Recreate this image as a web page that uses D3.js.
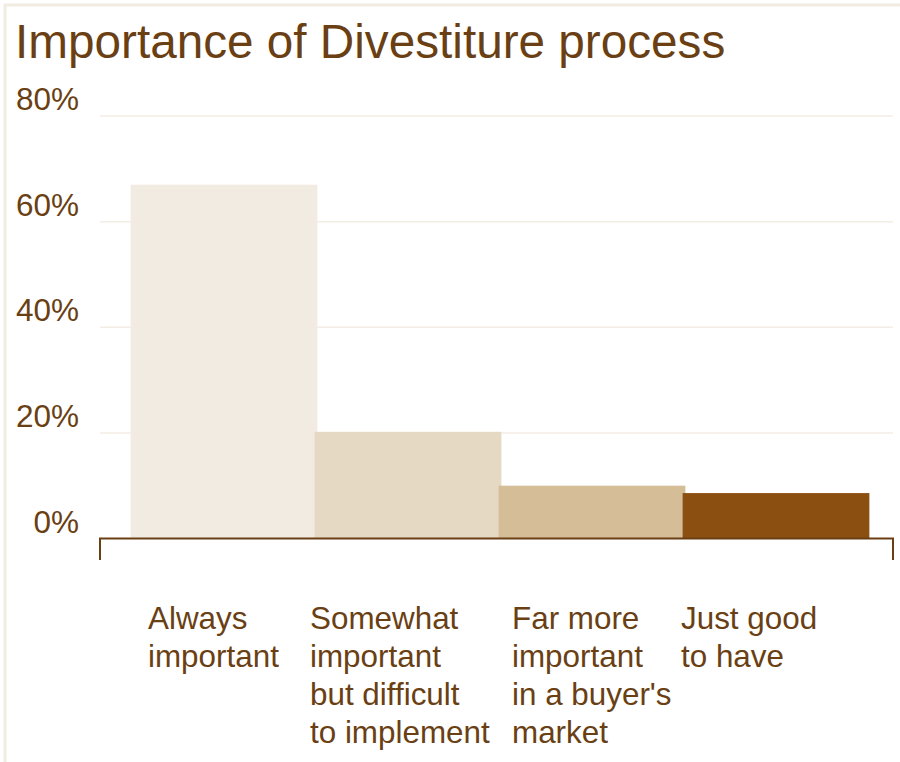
<!DOCTYPE html>
<html>
<head>
<meta charset="utf-8">
<script src="https://cdn.jsdelivr.net/npm/d3@7"></script>
<style>
  html, body { margin: 0; padding: 0; background: #ffffff; }
  svg { display: block; }
  text { font-family: "Liberation Sans", Arial, sans-serif; fill: #6a3f14; }
</style>
</head>
<body>
<svg id="chart" width="900" height="762"></svg>
<script>
// Survey answers and their shares (percent)
const categories = [
  ["Always", "important"],
  ["Somewhat", "important", "but difficult", "to implement"],
  ["Far more", "important", "in a buyer's", "market"],
  ["Just good", "to have"]
];
const values = [67, 20.2, 10, 8.6];
const barColors = ["#f2ebe1", "#e5d9c3", "#d5bd98", "#8b4f11"];
const yTicks = [0, 20, 40, 60, 80];
const titleText = "Importance of Divestiture process";

const svg = d3.select("#chart");
const textColor = "#6a3f14";

// Light frame around the panel
svg.append("path")
  .attr("d", "M5,770 L5,5 L905,5")
  .attr("fill", "none")
  .attr("stroke", "#f2ebe1")
  .attr("stroke-width", 3);

svg.append("text")
  .attr("x", 15)
  .attr("y", 58)
  .attr("font-size", 47.7)
  .text(titleText);

const plot = { left: 100, right: 893, top: 116, bottom: 538.5 };

const y = d3.scaleLinear().domain([0, 80]).range([plot.bottom, plot.top]);
const keys = d3.range(categories.length);
const x = d3.scaleBand().domain(keys).range([132, 868]).paddingInner(0).paddingOuter(0);
const barW = x.bandwidth() * 1.015;

// Horizontal gridlines
svg.append("g")
  .selectAll("line")
  .data(yTicks.filter(d => d > 0))
  .join("line")
  .attr("x1", plot.left)
  .attr("x2", plot.right)
  .attr("y1", d => y(d))
  .attr("y2", d => y(d))
  .attr("stroke", "#f3ede4")
  .attr("stroke-width", 1.5);

// Y tick labels, sitting just above each gridline
svg.append("g")
  .selectAll("text")
  .data(yTicks)
  .join("text")
  .attr("x", 79)
  .attr("y", d => y(d) - 6)
  .attr("text-anchor", "end")
  .attr("font-size", 31.5)
  .text(d => d + "%");

// Bars
svg.append("g")
  .selectAll("rect")
  .data(values)
  .join("rect")
  .attr("x", (d, i) => x(i) + x.bandwidth() / 2 - barW / 2)
  .attr("width", barW)
  .attr("y", d => y(d))
  .attr("height", d => y(0) - y(d))
  .attr("fill", (d, i) => barColors[i]);

// Baseline with end ticks
svg.append("path")
  .attr("d", `M${plot.left},560 L${plot.left},${plot.bottom} L${plot.right},${plot.bottom} L${plot.right},560`)
  .attr("fill", "none")
  .attr("stroke", textColor)
  .attr("stroke-width", 2);

// Category labels, wrapped on several lines
const labelX = [148, 310, 512, 681];
const labels = svg.append("g")
  .selectAll("text")
  .data(categories)
  .join("text")
  .attr("x", (d, i) => labelX[i])
  .attr("y", 629)
  .attr("font-size", 31.4);

labels.selectAll("tspan")
  .data(d => d)
  .join("tspan")
  .attr("x", function () { return d3.select(this.parentNode).attr("x"); })
  .attr("dy", (d, j) => j === 0 ? 0 : 38)
  .text(d => d);
</script>
</body>
</html>
